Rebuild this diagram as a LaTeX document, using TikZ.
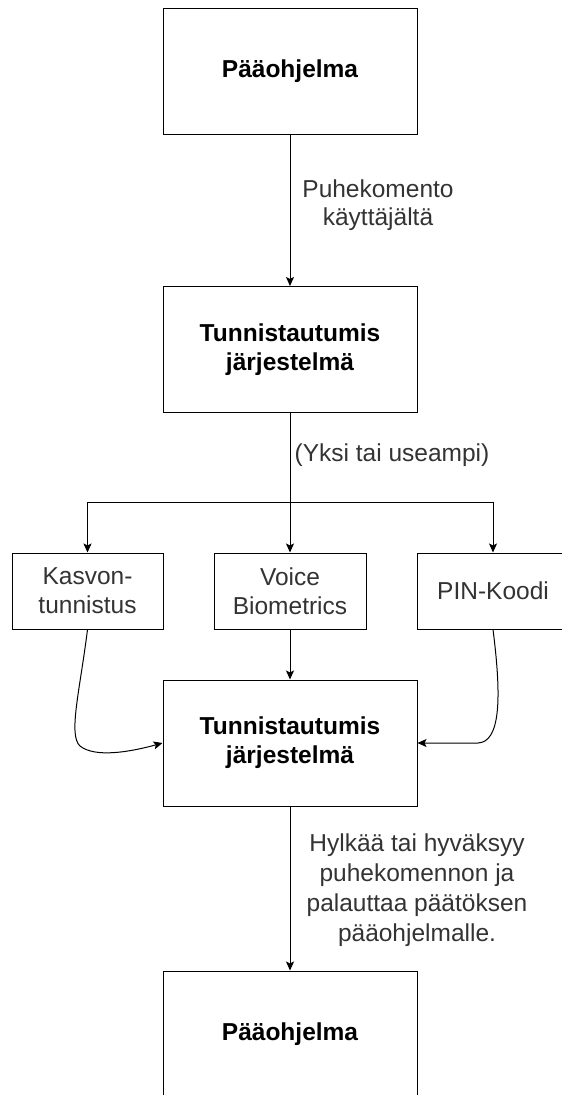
\documentclass[tikz,border=0pt]{standalone}
\usepackage{fontspec}
\setmainfont{Liberation Sans}
\usetikzlibrary{arrows.meta}
\definecolor{txt}{HTML}{333333}
\tikzset{
  bigbox/.style={draw=black, line width=1pt, minimum width=254pt, minimum height=126pt, inner sep=0pt,
     font=\fontsize{24.5}{29}\selectfont\bfseries, align=center},
  smallbox/.style={draw=black, line width=1pt, minimum width=151pt, minimum height=76pt, inner sep=0pt,
     font=\fontsize{24.5}{29}\selectfont, text=txt, align=center},
  lbl/.style={font=\fontsize{24.5}{29}\selectfont, text=txt, align=center, inner sep=0pt},
  conn/.style={line width=1pt, -{Stealth[length=9pt,width=8pt,inset=2pt]}},
  plain/.style={line width=1pt}
}
\begin{document}
\begin{tikzpicture}[x=1pt,y=-1pt]
\useasboundingbox (0,0) rectangle (562,1095);
\clip (0,0) rectangle (562,1095);
\node[bigbox] (box1) at (290,71) {Pääohjelma};
\node[bigbox] (box2) at (290,349.5) {Tunnistautumis\\järjestelmä};
\node[smallbox] (k) at (87.5,591) {Kasvon-\\tunnistus};
\node[smallbox, minimum width=152pt] (v) at (290,591) {Voice\\Biometrics};
\node[smallbox, minimum width=152pt] (p) at (493,591) {PIN-Koodi};
\node[bigbox] (box3) at (290,743) {Tunnistautumis\\järjestelmä};
\node[bigbox] (box4) at (290,1034) {Pääohjelma};

\draw[conn] (box1.south) -- (box2.north);
\node[lbl, font=\fontsize{24.5}{28}\selectfont] (lab1) at (378,205) {Puhekomento\\käyttäjältä};

\coordinate (hub) at (290,502);
\draw[conn] (box2.south) -- (v.north);
\draw[conn] (hub) -| (k.north);
\draw[conn] (hub) -| (p.north);
\node[lbl] (lab2) at (392,455) {(Yksi tai useampi)};

\draw[conn] (v.south) -- (box3.north);
\draw[conn] (k.south) .. controls (80,690) and (68,735) .. (80,746) .. controls (95,758) and (130,752) .. (box3.west);
\draw[conn] (p.south) .. controls (502,700) and (500,742) .. (478,743) -- (box3.east);

\draw[conn] (box3.south) -- (box4.north);
\node[lbl, font=\fontsize{24.5}{30}\selectfont] (lab3) at (417,890) {Hylkää tai hyväksyy\\puhekomennon ja\\palauttaa päätöksen\\pääohjelmalle.};
\end{tikzpicture}
\end{document}
